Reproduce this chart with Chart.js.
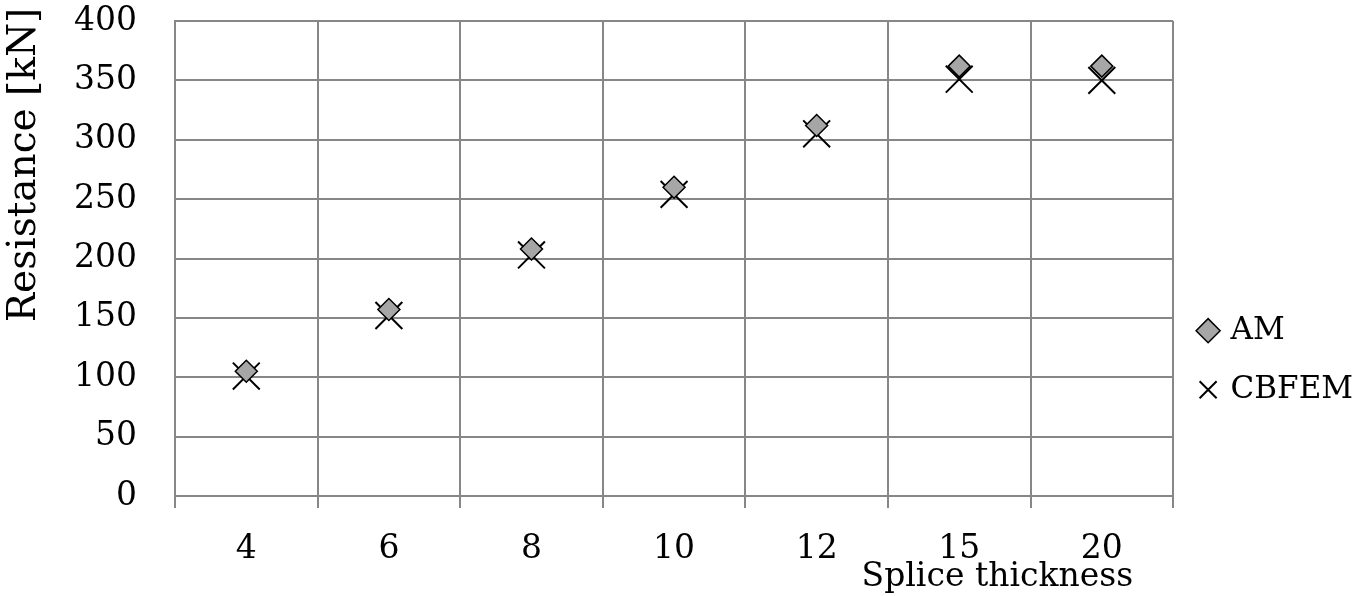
<!DOCTYPE html>
<html>
<head>
<meta charset="utf-8">
<script src="https://cdn.jsdelivr.net/npm/chart.js@4/dist/chart.umd.min.js"></script>
<style>
  body { margin: 0; background: #fff; }
  #wrap { width: 1355px; height: 596px; }
</style>
</head>
<body>
<div id="wrap"><canvas id="resistanceChart"></canvas></div>
<script>
// splice thickness categories and resistances [kN]
var thicknessLabels = ['4', '6', '8', '10', '12', '15', '20'];
var amValues = [105, 157, 208, 260, 312, 362, 362];
var cbfemValues = [101, 152, 203, 254, 305, 351, 350];
var yMin = 0, yMax = 400, yStep = 50;

var serif = "'DejaVu Serif', 'Liberation Serif', serif";
var gridColor = '#878787';

// axis titles sit where the original spreadsheet put them
var axisTitles = {
    id: 'axisTitles',
    afterDraw: function (chart) {
        var ctx = chart.ctx;
        var area = chart.chartArea;
        ctx.save();
        ctx.fillStyle = '#000';
        ctx.textBaseline = 'middle';
        ctx.font = '33px ' + serif;
        ctx.textAlign = 'right';
        ctx.fillText('Splice thickness', area.right - 40, area.bottom + 81);
        ctx.font = '39px ' + serif;
        ctx.textAlign = 'center';
        ctx.translate(25, area.top + 144);
        ctx.rotate(-Math.PI / 2);
        ctx.fillText('Resistance [kN]', 0, 0);
        ctx.restore();
    }
};

var ctx = document.getElementById('resistanceChart');
var myChart = new Chart(ctx, {
    type: 'line',
    data: {
        labels: thicknessLabels,
        datasets: [
            {
                label: 'AM',
                data: amValues,
                showLine: false,
                pointStyle: 'rectRot',
                pointRadius: 11,
                pointHoverRadius: 11,
                pointBackgroundColor: '#a6a6a6',
                pointBorderColor: '#000',
                pointBorderWidth: 1.5,
                backgroundColor: '#a6a6a6',
                borderColor: '#000',
                borderWidth: 1.5,
                order: 0
            },
            {
                label: 'CBFEM',
                data: cbfemValues,
                showLine: false,
                pointStyle: 'crossRot',
                pointRadius: 19,
                pointHoverRadius: 19,
                pointBorderColor: '#000',
                pointBorderWidth: 2,
                borderColor: '#000',
                borderWidth: 2,
                order: 1
            }
        ]
    },
    options: {
        responsive: true,
        maintainAspectRatio: false,
        animation: false,
        events: [],
        layout: { padding: { top: 21, left: 0, right: -8, bottom: 0 } },
        scales: {
            x: {
                type: 'category',
                offset: true,
                grid: {
                    offset: true,
                    color: gridColor,
                    lineWidth: 2,
                    tickLength: 12,
                    tickColor: gridColor
                },
                border: { display: false },
                ticks: {
                    color: '#000',
                    font: { family: serif, size: 33 },
                    padding: 22,
                    maxRotation: 0
                },
                afterFit: function (scale) { scale.height = 100; }
            },
            y: {
                min: yMin,
                max: yMax,
                grid: {
                    color: gridColor,
                    lineWidth: 2,
                    // invisible ticks keep the labels off the axis
                    tickLength: 38,
                    tickColor: 'rgba(0,0,0,0)'
                },
                border: { display: true, color: gridColor, width: 2 },
                ticks: {
                    stepSize: yStep,
                    color: '#000',
                    font: { family: serif, size: 33 },
                    padding: 0
                },
                afterFit: function (scale) { scale.width = 175; }
            }
        },
        plugins: {
            tooltip: { enabled: false },
            legend: {
                position: 'right',
                align: 'center',
                title: { display: true, text: ' ', padding: { top: 0, bottom: 89 } },
                labels: {
                    usePointStyle: true,
                    boxWidth: 14,
                    boxHeight: 17,
                    padding: 28,
                    color: '#000',
                    font: { family: serif, size: 31 }
                }
            }
        }
    },
    plugins: [axisTitles]
});
</script>
</body>
</html>
